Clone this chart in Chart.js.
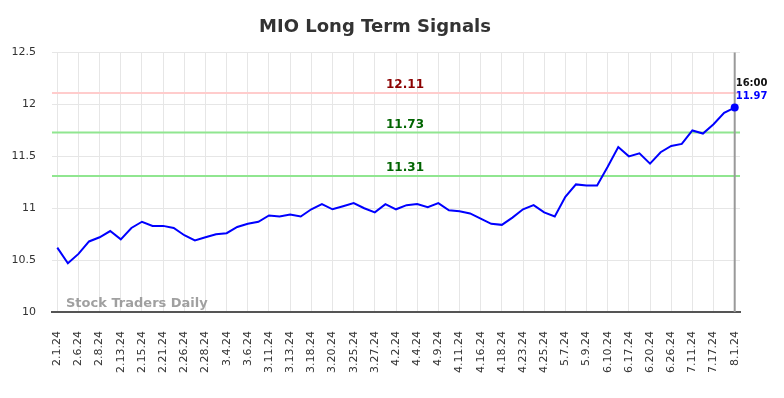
<!DOCTYPE html>
<html>
<head>
<meta charset="utf-8">
<script src="https://cdn.jsdelivr.net/npm/chart.js@4.4.1/dist/chart.umd.min.js"></script>
<style>
  html, body { margin: 0; padding: 0; background: #fff; }
  #wrap { width: 784px; height: 398px; }
</style>
</head>
<body>
<div id="wrap"><canvas id="myChart"></canvas></div>
<script>
const dates = [
  "2.1.24", "2.5.24", "2.6.24", "2.7.24", "2.8.24", "2.12.24", "2.13.24", "2.14.24",
  "2.15.24", "2.20.24", "2.21.24", "2.23.24", "2.26.24", "2.27.24", "2.28.24", "3.1.24",
  "3.4.24", "3.5.24", "3.6.24", "3.8.24", "3.11.24", "3.12.24", "3.13.24", "3.15.24",
  "3.18.24", "3.19.24", "3.20.24", "3.22.24", "3.25.24", "3.26.24", "3.27.24", "4.1.24",
  "4.2.24", "4.3.24", "4.4.24", "4.8.24", "4.9.24", "4.10.24", "4.11.24", "4.15.24",
  "4.16.24", "4.17.24", "4.18.24", "4.22.24", "4.23.24", "4.24.24", "4.25.24", "5.1.24",
  "5.7.24", "5.8.24", "5.9.24", "6.3.24", "6.10.24", "6.14.24", "6.17.24", "6.18.24",
  "6.20.24", "6.25.24", "6.26.24", "7.8.24", "7.11.24", "7.15.24", "7.17.24", "7.25.24",
  "8.1.24"
];

const prices = [
  10.62, 10.47, 10.56, 10.68, 10.72, 10.78, 10.70, 10.81, 10.87, 10.83,
  10.83, 10.81, 10.74, 10.69, 10.72, 10.75, 10.76, 10.82, 10.85, 10.87,
  10.93, 10.92, 10.94, 10.92, 10.99, 11.04, 10.99, 11.02, 11.05, 11.00,
  10.96, 11.04, 10.99, 11.03, 11.04, 11.01, 11.05, 10.98, 10.97, 10.95,
  10.90, 10.85, 10.84, 10.91, 10.99, 11.03, 10.96, 10.92, 11.11, 11.23,
  11.22, 11.22, 11.40, 11.59, 11.50, 11.53, 11.43, 11.54, 11.60, 11.62,
  11.75, 11.72, 11.81, 11.92, 11.97
];

const levels = [12.11, 11.73, 11.31];
const levelLineColors = ["#ffcccc", "#90e690", "#90e690"];
const levelTextColors = ["#8b0000", "#006400", "#006400"];
const lastTime = "16:00";

const font = "DejaVu Sans";

// horizontal signal lines, last-price marker and watermark
const overlay = {
  id: "overlay",
  beforeDatasetsDraw(chart) {
    const { ctx, chartArea: a, scales: { y } } = chart;
    ctx.save();
    ctx.font = "bold 13px " + font;
    ctx.fillStyle = "rgba(150,150,150,0.9)";
    ctx.textAlign = "left";
    ctx.textBaseline = "alphabetic";
    ctx.fillText("Stock Traders Daily", a.left + 14, a.bottom - 5);

    ctx.lineWidth = 2;
    levels.forEach((v, i) => {
      const py = y.getPixelForValue(v);
      ctx.strokeStyle = levelLineColors[i];
      ctx.beginPath();
      ctx.moveTo(a.left, py);
      ctx.lineTo(a.right, py);
      ctx.stroke();
    });
    ctx.restore();
  },
  afterDatasetsDraw(chart) {
    const { ctx, chartArea: a, scales: { x, y } } = chart;
    ctx.save();
    ctx.font = "bold 12px " + font;
    ctx.textAlign = "center";
    ctx.textBaseline = "middle";
    const cx = (a.left + a.right) / 2 + 9;
    levels.forEach((v, i) => {
      ctx.fillStyle = levelTextColors[i];
      ctx.fillText(v.toFixed(2), cx, y.getPixelForValue(v) - 8);
    });

    const last = prices.length - 1;
    const px = x.getPixelForValue(last);
    const py = y.getPixelForValue(prices[last]);
    ctx.strokeStyle = "#999";
    ctx.lineWidth = 2;
    ctx.beginPath();
    ctx.moveTo(px, a.top);
    ctx.lineTo(px, a.bottom);
    ctx.stroke();

    ctx.fillStyle = "#0000ff";
    ctx.beginPath();
    ctx.arc(px, py, 4, 0, Math.PI * 2);
    ctx.fill();

    ctx.font = "bold 10px " + font;
    ctx.textAlign = "left";
    ctx.fillStyle = "#111";
    ctx.fillText(lastTime, px + 1, py - 24);
    ctx.fillStyle = "#0000ff";
    ctx.fillText(prices[last].toFixed(2), px + 1, py - 11);
    ctx.restore();
  }
};

new Chart(document.getElementById("myChart"), {
  type: "line",
  data: {
    labels: dates,
    datasets: [
      {
        data: prices,
        borderColor: "#0000ff",
        borderWidth: 2,
        pointRadius: 0,
        tension: 0,
        fill: false,
      },
    ],
  },
  options: {
    responsive: true,
    maintainAspectRatio: false,
    animation: false,
    layout: { padding: { left: 10, right: 44, top: 0, bottom: 6 } },
    plugins: {
      legend: { display: false },
      tooltip: { enabled: false },
      title: {
        display: true,
        text: "MIO Long Term Signals",
        color: "#333",
        font: { family: font, size: 18, weight: "bold" },
        padding: { top: 17, bottom: 14 },
      },
    },
    scales: {
      x: {
        offset: true,
        grid: {
          offset: false,
          drawTicks: false,
          color: (c) => (c.index % 2 === 0 ? "#e6e6e6" : "rgba(0,0,0,0)"),
        },
        border: { color: "#555", width: 2 },
        ticks: {
          autoSkip: false,
          minRotation: 90,
          maxRotation: 90,
          padding: 19,
          color: "#333",
          font: { family: font, size: 11 },
          callback: function (v, i) {
            return i % 2 === 0 ? this.getLabelForValue(v) : "";
          },
        },
      },
      y: {
        min: 10,
        max: 12.5,
        grid: { color: "#e6e6e6", drawTicks: false },
        border: { display: false },
        afterFit: (scale) => { scale.width = 42; },
        ticks: {
          stepSize: 0.5,
          padding: 16,
          color: "#333",
          font: { family: font, size: 11 },
          callback: (v) => String(v),
        },
      },
    },
  },
  plugins: [overlay],
});
</script>
</body>
</html>
